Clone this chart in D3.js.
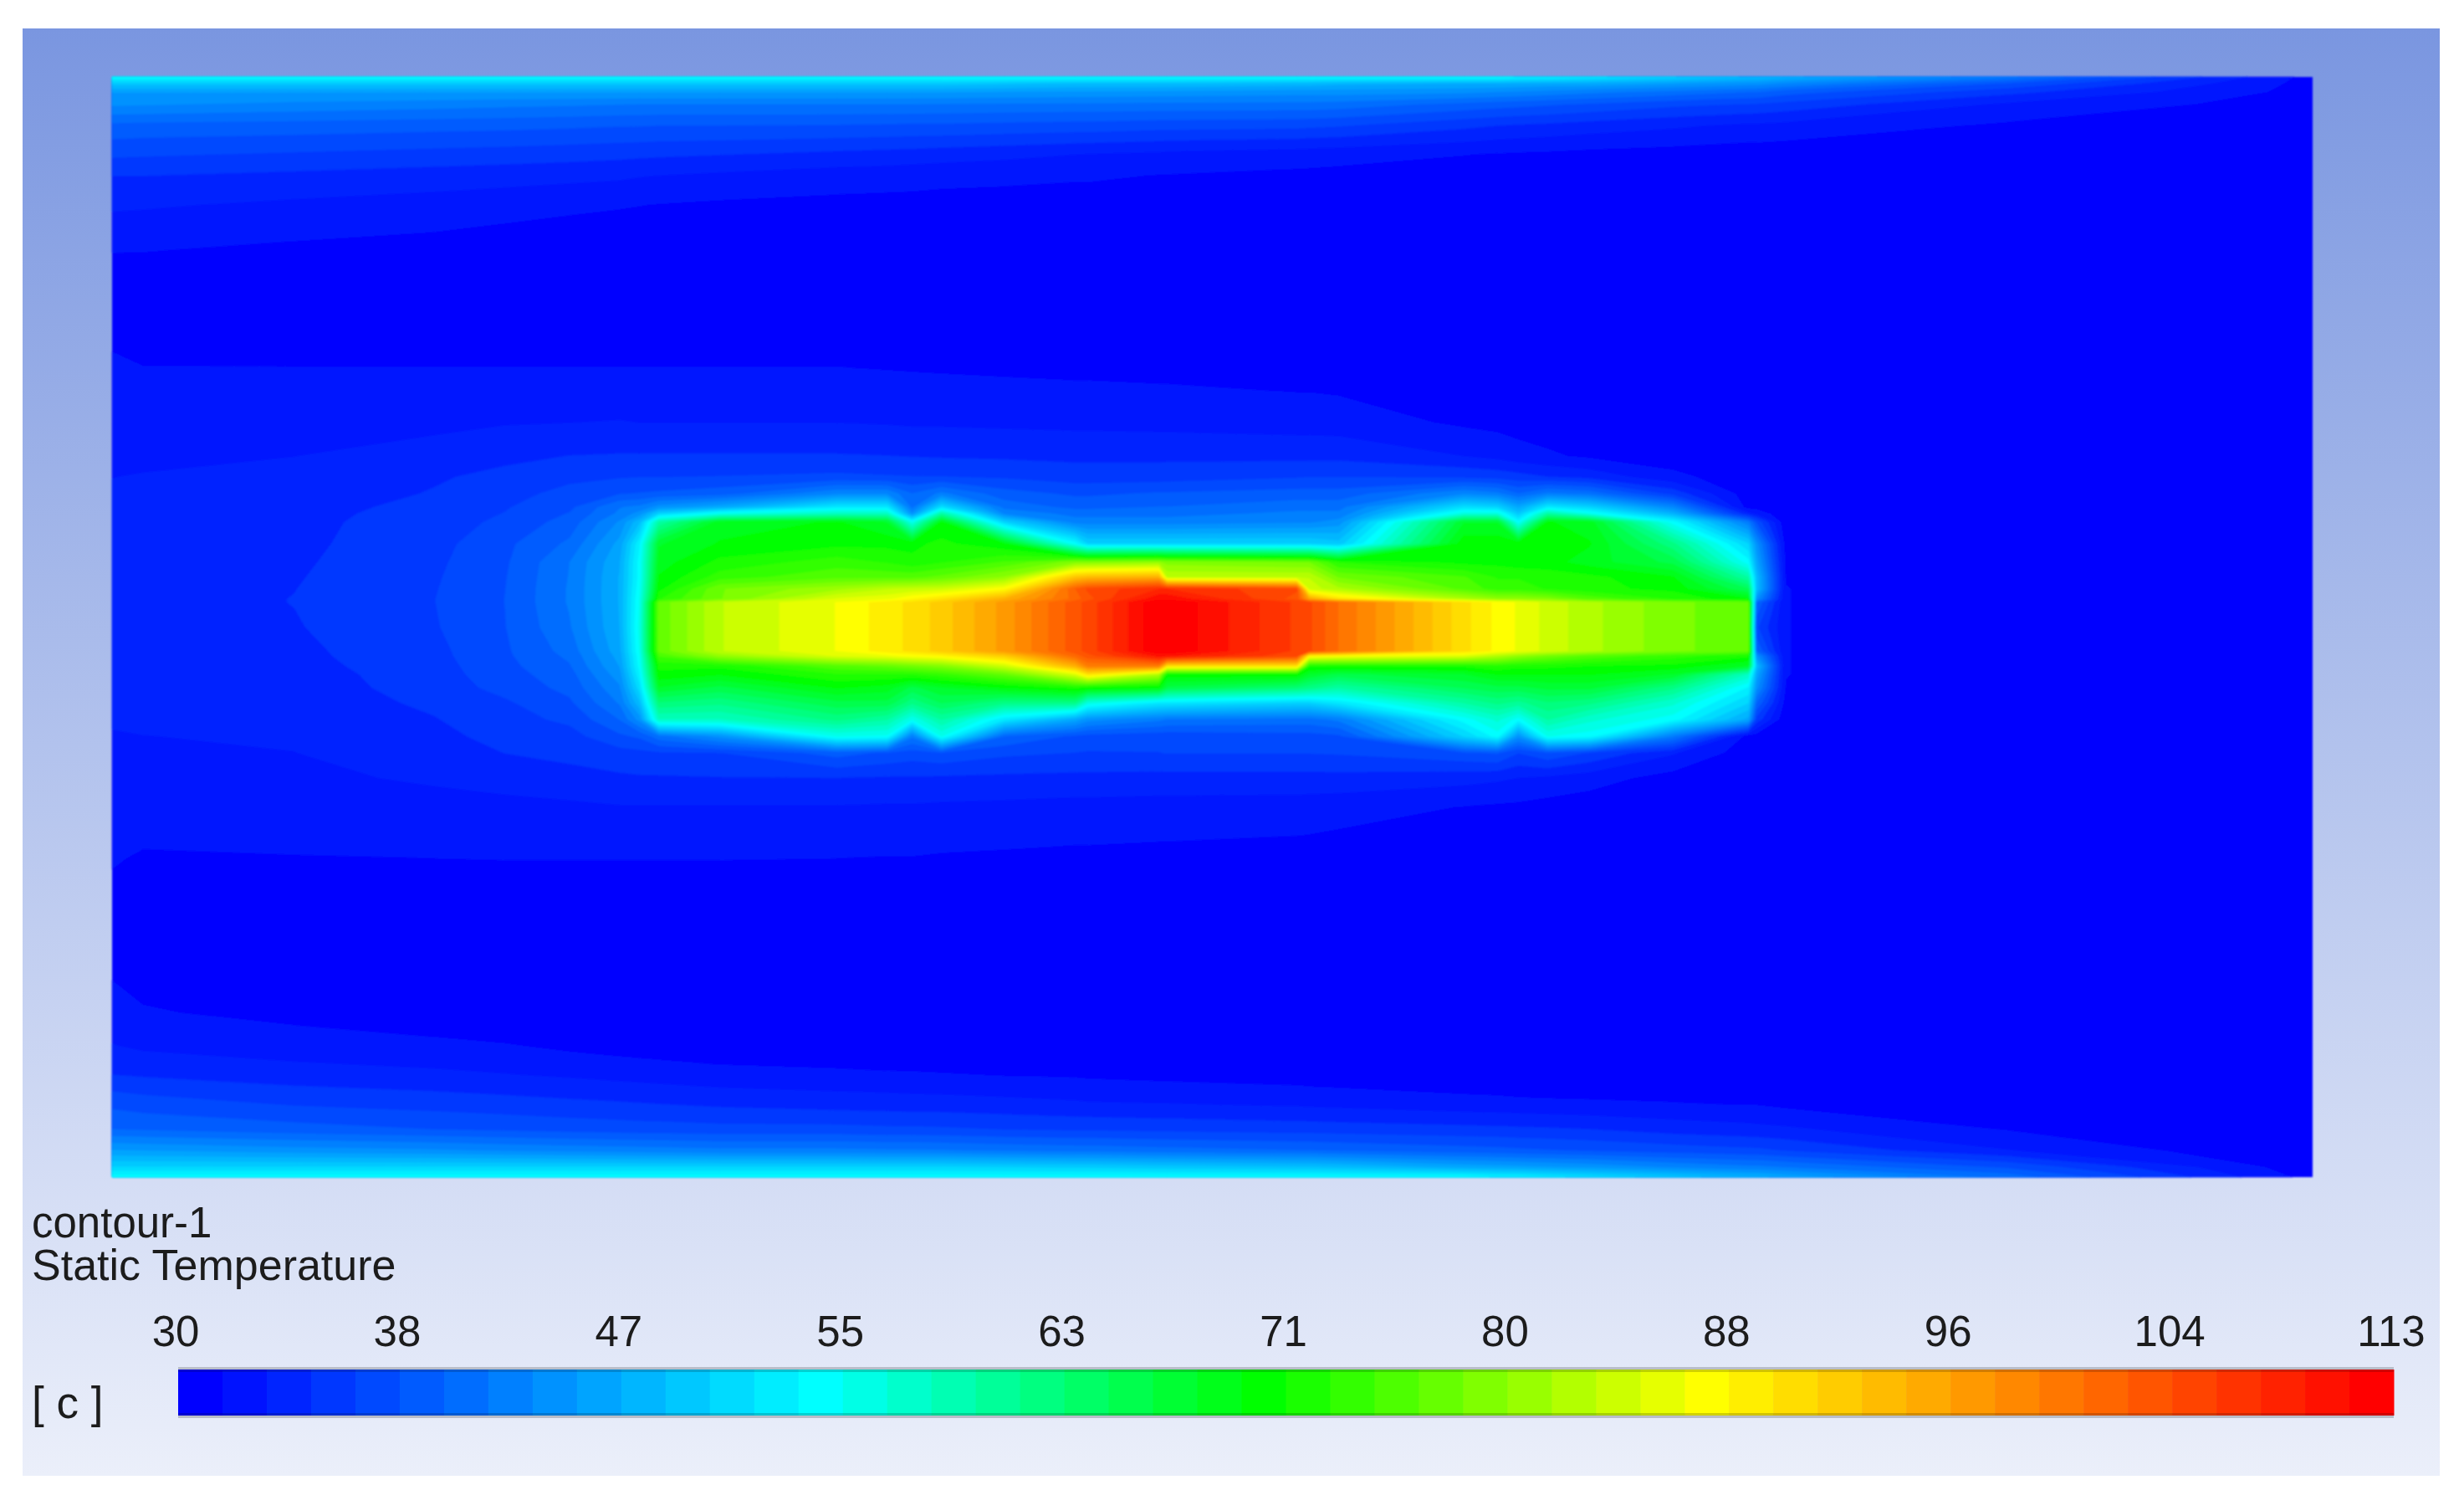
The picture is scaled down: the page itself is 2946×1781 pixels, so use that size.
<!DOCTYPE html>
<html>
<head>
<meta charset="utf-8">
<title>contour-1 Static Temperature</title>
<style>
  body { margin: 0; background: #fff; }
  text { font-family: "Liberation Sans", Arial, sans-serif; font-size: 51px; fill: #1c1c1e; }
</style>
</head>
<body>
<div id="chart"></div>
<script src="https://cdn.jsdelivr.net/npm/d3@7"></script>
<script>
// labels
var titleLines = ["contour-1", "Static Temperature"];
var unitLabel = "[ c ]";
var tickLabels = ["30", "38", "47", "55", "63", "71", "80", "88", "96", "104", "113"];

// colour legend: 50 flat bands from 30 to 113, pure colours sit on these band numbers
var tempMin = 30, tempMax = 113, bandCount = 50;
var stopBands = [0, 14, 24, 34, 49];
var stopColors = ["#0000ff", "#00ffff", "#00ff00", "#ffff00", "#ff0000"];

// sample positions across the section, in domain units (left edge = 0, top edge = 0)
var xGrid = [0,37,218,386,470,547,607,631,654,727,867,927,957,992,1067,1152,1167,1252,1262,1417,1432,1467,1617,1657,1682,1717,1767,1867,1957,1967,2002,2267,2632];
var yGrid = [0,8,18,33,58,93,118,153,208,258,348,413,453,478,498,514,522,532,558,580,598,612,624,628,658,686,692,704,714,730,748,768,788,808,838,873,934,1028,1118,1158,1193,1228,1258,1283,1303,1315];

// temperature, one row per yGrid entry, one value per xGrid entry
var tempRows = [
[54,54,54,54,54,54,54,54,54,54,54,54,54,54,54,54,54,54,54,54,54,54,54,54,53,53,52,50,48,48,47,42,31],
[49,49,49,49,49,49,49,49,49,49,49,49,49,49,48.5,48,48,48,48,47.5,47.5,47,46.5,46.5,46.3,46,46,45,44,44,43,38,31],
[45,45,45,45,45,45,45,45,45,45,45,45,45,45,44.8,44.6,44.6,44.4,44.4,44,44,44,43.6,43.2,43,42.6,42,41,40,40,39,35.5,31],
[43.5,43.4,42.8,42.3,42,41.8,41.6,41.5,41.5,41.5,41.5,41.5,41.5,41.4,41.3,41.2,41.2,41.1,41.1,41,41,40.8,39.4,39,38.8,38.5,38,37,36.5,36.4,36,33,30.8],
[39.5,39.4,39.2,38.9,38.8,38.6,38.4,38.4,38.3,38.3,38.2,38.1,38,38,37.8,37.6,37.6,37.3,37.3,37.1,37,36.8,35.4,35,34.8,34.6,34.2,33.6,33,33,32.8,31.4,30],
[36.9,36.8,36.4,36,35.8,35.6,35.4,35.3,35.2,35,34.5,34.3,34.2,34,33.7,33.3,33.2,32.9,32.8,32.4,32.3,32.2,31.7,31.5,31.4,31.3,31.1,30.9,30.7,30.7,30.6,30,30],
[35,35,34.6,34.2,34,33.8,33.6,33.4,33.3,33,32.5,32.4,32.3,32.2,32.1,31.9,31.9,31.6,31.6,31.3,31.3,31.2,30.8,30.6,30.5,30.4,30.3,30.1,30,30,30,30,30],
[33.6,33.5,33,32.6,32.3,32,31.8,31.7,31.6,31.4,31.2,31.1,31.1,31,30.9,30.8,30.8,30.6,30.6,30.4,30.4,30.4,30.2,30.1,30.1,30,30,30,30,30,30,30,30],
[31.7,31.7,31.3,31,30.7,30.5,30.3,30.2,30.2,30.1,30,30,30,30,30,30,30,30,30,30,30,30,30,30,30,30,30,30,30,30,30,30,30],
[30.8,30.4,30,30,30,30,30,30,30,30,30,30,30,30,30,30,30,30,30,30,30,30,30,30,30,30,30,30,30,30,30,30,30],
[31.9,31.7,31.7,31.7,31.7,31.7,31.7,31.7,31.7,31.7,31.7,31.6,31.55,31.5,31.4,31.3,31.3,31.2,31.2,30.9,30.9,30.8,30.4,30.3,30.2,30.1,30,30,30,30,30,30,30],
[32.8,32.8,32.7,32.9,33.2,33.3,33.4,33.3,33.3,33.3,33.3,33.2,33.1,33.1,33,32.9,32.9,32.8,32.8,32.6,32.6,32.5,31.4,31.2,31,30.8,30.5,30.2,30,30,30,30,30],
[33,33,33.3,34,34.6,35,35.1,35.1,35.1,35.1,35.1,35,34.9,34.8,34.7,34.6,34.6,34.6,34.6,34.5,34.5,34.5,33.3,32.8,32.3,31.9,31.4,30.6,30.2,30.1,30,30,30],
[33.3,33.4,33.8,34.8,35.4,36.2,36.5,36.6,36.6,36.7,37,36.8,36.7,36.7,36.4,35.8,35.8,35.8,35.9,36.5,36.6,36.6,36.3,36,35.6,35,34.4,32.2,30.5,30.3,30,30,30],
[33.5,33.6,34,35.1,36,37.2,38.2,38.4,38.6,39.2,43,43,40,42,39,38,38,38.5,38.5,39,39,39,43,42,40,42,41,36,30.8,30.5,30,30,30],
[33.6,33.7,34.3,35.5,36.5,37.9,41.5,42,44,46,52,52,41,51,41,39.5,39.5,40,40,41,41,41,51,50,46,52,50,43,31,31,30,30,30],
[33.7,33.8,34.4,35.7,36.7,38.4,42,44,50,55,58,58,44,60,43,41,41,41,41,42,42,42,56,56,49,60,55,47,34,33,30.2,30,30],
[33.8,33.9,34.5,35.85,37,39,43.5,48,60,69,70,68,55,70,50,42.5,42.5,42.5,42.5,43,43,44,68,68,54,70,69,54,42,38,30.4,30,30],
[34,34.1,34.6,36.05,37.9,40.3,45.5,53,68,70,71,71,71,72,70,54,50,50,50,50,50,49,71,71,71,71,70,62,50,44,31,30,30],
[34,34.1,34.72,36.3,38.05,41.6,46.4,54,69,72,74,73,72,73,75,79,79,80,79,78,78,73,71,71,70.5,70.5,69,66,54,46,31.4,30,30],
[34,34.1,34.85,36.45,38.2,41.7,46.7,54,70,74,76,76,76,77,80,93,94,95,83,83,83,78,75,73,73,72.5,72,70,60,48,31.6,30,30],
[34,34.1,34.95,36.55,38.28,41.8,46.7,54.5,71,78,81,83,83.5,84,87.5,103,105,108,108,105,84,82,76,74,74,73,72,71,65,48,31.7,30,30],
[34,34.2,35.02,36.62,38.32,41.8,46.7,55,73,78,85,86,88,90,95,102,104,111,111,104,96,90,82,80,80,79,76,73,70,44,31.7,30,30],
[34,34.2,35.02,36.62,38.32,41.8,46.7,55,77,83,86.5,89,90.2,92.2,97,104,105.3,113,113,106,105,101.3,90.3,87.6,86.2,84.2,82,78.6,77,40,31.7,30,30],
[34,34.2,34.85,36.5,38.25,41.4,46.6,55.5,77,83,86.5,89,90.2,92.2,97,104,105.3,113,113,106,105,101.3,90.3,87.6,86.2,84.2,82,78.6,77,37,31.7,30,30],
[34,34.2,34.6,36.2,38.05,40.6,46,55,77,83,86.5,89,90.2,92.2,97,104,105.3,113,113,106,105,101.3,90.3,87.6,86.2,84.2,82,78.6,77,40,31.7,30,30],
[34,34.2,34.55,36.15,38,40.3,45.6,54.5,75,80,85,86,87,88,92,102,104,110,110,105,88,87,85,82,80,78,76,74,72,44,31.7,30,30],
[34,34.1,34.4,36,37.8,39.8,45,54,72,72,76,77,78,79,84,95,100,100,90,90,72,72,72,73,72,72,71.5,71,68,48,31.7,30,30],
[33.9,34,34.2,35.9,37.6,39.3,44.2,53,71,70,73,73,73,74,77,85,90,82,71,71,68,66,68,70,70,70,70,68,58,46,31.7,30,30],
[33.8,33.9,34.1,35.7,37.2,38.8,43,51,68,66,70,69,66,68,70,72,71,70,66,63,62,60,65,66,66,67,67,62,53,44,31.6,30,30],
[33.7,33.8,34,35.3,36.4,38,41.8,48,63,62,66,66,62,65,62,62,56,52,52,50,50,52,60,62,61,63,62,57,50,40,31,30,30],
[33.5,33.6,33.9,34.9,36,37,40,44,58,58,62,60,55,60,52,46,44,42,41.5,41,41,42,54,57,54,60,57,54,46,36,30.4,30,30],
[33.2,33.3,33.5,34.55,35.5,36,38,38.6,41,44,55,54.5,42,55,40,38,37.7,37.2,37.2,37.6,37.6,38,50,54,44,55,54,42,31,31,30.2,30,30],
[33,33.1,33.3,34.2,35,35.5,36,36.2,36.4,36.6,39,38,37.5,38,37,36.6,36.5,36.6,36.7,36.7,36.7,36.8,38,38.5,36.7,38,36.5,33.5,30.8,30.4,30,30,30],
[32.7,32.8,32.9,33.6,34,34.3,34.7,34.8,34.8,34.9,34.95,34.8,34.8,34.7,34.6,34.5,34.5,34.4,34.4,34.4,34.4,34.4,33.9,33.6,33.3,33,32.4,31,30.2,30,30,30,30],
[32.3,32.4,32.5,32.6,32.8,33,33.2,33.2,33.2,33.2,33.2,33.1,33.1,33,32.9,32.7,32.7,32.6,32.6,32.5,32.4,32.3,31.6,31.4,31.3,31,30.7,30,30,30,30,30,30],
[31.8,31.5,31.6,31.66,31.7,31.7,31.7,31.7,31.7,31.7,31.66,31.6,31.6,31.5,31.4,31.3,31.3,31.2,31.2,31,31,30.8,30.4,30.3,30.2,30.1,30,30,30,30,30,30,30],
[30.8,30.4,30,30,30,30,30,30,30,30,30,30,30,30,30,30,30,30,30,30,30,30,30,30,30,30,30,30,30,30,30,30,30],
[32.3,31.8,31.2,30.7,30,30,30,30,30,30,30,30,30,30,30,30,30,30,30,30,30,30,30,30,30,30,30,30,30,30,30,30,30],
[33.4,33,32.4,32,31.8,31.3,31,30.9,30.8,30.5,30.2,30,30,30,30,30,30,30,30,30,30,30,30,30,30,30,30,30,30,30,30,30,30],
[35,34.8,34.1,33.7,33.4,33.1,32.8,32.7,32.6,32.3,32.1,31.95,31.9,31.8,31.6,31.5,31.4,31.2,31.2,30.9,30.8,30.7,30.3,30.2,30,30,30,30,30,30,30,30,30],
[37.9,37.5,36.5,36,35.7,35.4,35.2,35.1,35,34.7,34.3,34.2,34.1,34.1,33.9,33.6,33.5,33.4,33.4,33.1,33,32.9,32.4,32.3,32.2,32.1,32,31.8,31.6,31.6,31.3,30.4,30],
[40,39.8,39,38.3,38,37.7,37.5,37.4,37.4,37.2,37.2,37,37,36.9,36.6,36.4,36.4,36.2,36.2,35.9,35.9,35.8,35.5,35.4,35.3,35.2,35,34.3,33.9,33.8,33.6,31.6,30],
[45,44.8,44,43.5,43,42.7,42.5,42.4,42.3,42,42,41.8,41.8,41.7,41.3,41,41,40.6,40.6,40,40,39.8,39,38.8,38.6,38.4,38.1,37.5,37,37,36.5,33.4,30],
[50,50,50,50,50,50,50,50,50,50,50,50,50,50,49.8,49.5,49.5,49,49,48.4,48.4,48,46,45.7,45.4,45,44.5,43,42,42,41.5,38,30.5],
[54,54,54,54,54,54,54,54,54,54,54,54,54,54,54,54,54,54,54,54,54,54,54,53,53,52,51,49,47,47,46,41,31]
];

// setup
var w = 2946, h = 1781;
var panel = {left: 27, top: 34, right: 2917, bottom: 1764};
var plot = {left: 134, top: 92, right: 2765, bottom: 1407};
var bar = {left: 213, top: 1637, right: 2862, bottom: 1692};

tempRows.forEach(function(r, i) {
  if (r.length !== xGrid.length) throw new Error("row " + i + " has " + r.length + " values");
});
if (tempRows.length !== yGrid.length) throw new Error("rows " + tempRows.length);

var svg = d3.select("#chart").append("svg")
    .attr("width", w)
    .attr("height", h)
    .style("display", "block");

var defs = svg.append("defs");

var grad = defs.append("linearGradient")
    .attr("id", "panelFade")
    .attr("x1", 0).attr("y1", 0).attr("x2", 0).attr("y2", 1);
grad.append("stop").attr("offset", 0).attr("stop-color", "#7a96e0");
grad.append("stop").attr("offset", 1).attr("stop-color", "#ebeffa");

defs.append("filter").attr("id", "soft")
    .attr("filterUnits", "userSpaceOnUse")
    .attr("x", 0).attr("y", 0).attr("width", w).attr("height", h)
  .append("feGaussianBlur").attr("stdDeviation", 1.3);

defs.append("filter").attr("id", "softText")
    .attr("filterUnits", "userSpaceOnUse")
    .attr("x", 0).attr("y", 0).attr("width", w).attr("height", h)
  .append("feGaussianBlur").attr("stdDeviation", 0.7);

svg.append("rect")
    .attr("x", panel.left)
    .attr("y", panel.top)
    .attr("width", panel.right - panel.left)
    .attr("height", panel.bottom - panel.top)
    .attr("fill", "url(#panelFade)");

// band -> colour, temperature of band edge
var bandColor = d3.scaleLinear().domain(stopBands).range(stopColors).interpolate(d3.interpolateRgb);
var bandEdge = d3.scaleLinear().domain([0, bandCount]).range([tempMin, tempMax]);

// domain units -> display
var xScale = d3.scaleLinear().domain([0, xGrid[xGrid.length - 1]]).range([plot.left, plot.right]);
var yScale = d3.scaleLinear().domain([0, yGrid[yGrid.length - 1]]).range([plot.top, plot.bottom]);

// d3.contours works on a regular lattice with samples at i + 0.5, the samples here are not
// evenly spaced so lattice coordinates are remapped piecewise
function latticeScale(grid, s) {
  var dom = [0], rng = [s(grid[0])];
  grid.forEach(function(g, i) { dom.push(i + 0.5); rng.push(s(g)); });
  dom.push(grid.length);
  rng.push(s(grid[grid.length - 1]));
  return d3.scaleLinear().domain(dom).range(rng);
}
var xLattice = latticeScale(xGrid, xScale);
var yLattice = latticeScale(yGrid, yScale);

var path = d3.geoPath(d3.geoTransform({
  point: function(x, y) { this.stream.point(xLattice(x), yLattice(y)); }
}));

var thresholds = d3.range(1, bandCount).map(bandEdge);
var contours = d3.contours()
    .size([xGrid.length, yGrid.length])
    .thresholds(thresholds)(d3.merge(tempRows));

// draw the field, coldest band first
var field = svg.append("g").attr("filter", "url(#soft)");

field.append("rect")
    .attr("x", plot.left)
    .attr("y", plot.top)
    .attr("width", plot.right - plot.left)
    .attr("height", plot.bottom - plot.top)
    .attr("fill", bandColor(0));

field.selectAll("path")
    .data(contours)
    .enter().append("path")
    .attr("d", path)
    .attr("fill", function(d, i) { return bandColor(i + 1); })
    .attr("stroke", function(d, i) { return bandColor(i + 1); })
    .attr("stroke-width", 0.5);

// legend bar
var barScale = d3.scaleBand().domain(d3.range(bandCount)).range([bar.left, bar.right]);
var legend = svg.append("g");

legend.append("rect")
    .attr("x", bar.left)
    .attr("y", bar.top - 3)
    .attr("width", bar.right - bar.left)
    .attr("height", bar.bottom - bar.top + 6)
    .attr("fill", "#b9bdc9");

legend.selectAll(".band")
    .data(d3.range(bandCount))
    .enter().append("rect")
    .attr("class", "band")
    .attr("x", function(d) { return barScale(d); })
    .attr("y", bar.top)
    .attr("width", barScale.bandwidth() + 0.5)
    .attr("height", bar.bottom - bar.top)
    .attr("fill", function(d) { return bandColor(d); });

// dark rim along the top and bottom of the bar
[bar.top, bar.bottom - 3].forEach(function(y) {
  legend.append("rect")
      .attr("x", bar.left)
      .attr("y", y)
      .attr("width", bar.right - bar.left)
      .attr("height", 3)
      .attr("fill", "#000")
      .attr("opacity", 0.18);
});

// text
var labels = svg.append("g").attr("filter", "url(#softText)");

var tickScale = d3.scalePoint().domain(tickLabels).range([bar.left - 3, bar.right - 3]);
var tickAxis = d3.axisTop(tickScale).tickSize(0).tickPadding(0).offset(0);

labels.append("g")
    .attr("transform", "translate(0,1609)")
    .call(tickAxis)
    .call(function(g) { g.select(".domain").remove(); })
    .selectAll("text")
    .style("font-family", '"Liberation Sans", Arial, sans-serif')
    .style("font-size", "51px");

labels.selectAll(".title")
    .data(titleLines)
    .enter().append("text")
    .attr("class", "title")
    .attr("x", 38)
    .attr("y", function(d, i) { return 1479 + i * 51; })
    .style("font-size", function(d, i) { return i ? "52px" : "51px"; })
    .text(function(d) { return d; });

labels.append("text")
    .attr("x", 38)
    .attr("y", 1695)
    .style("font-size", "53px")
    .text(unitLabel);
</script>
</body>
</html>
